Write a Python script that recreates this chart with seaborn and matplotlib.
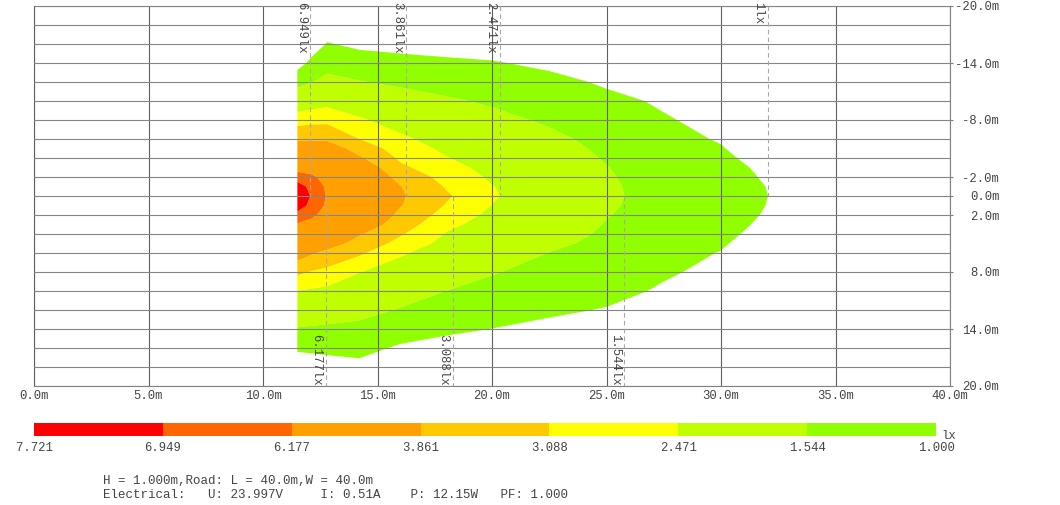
import numpy as np
import matplotlib
matplotlib.use("Agg")
import matplotlib.pyplot as plt
from matplotlib.colors import ListedColormap
import seaborn as sns

# ---------------- data ----------------
x_pos = [11.5, 12.1, 12.8, 14.2, 16.0, 18.0, 20.0, 22.5, 25.0, 27.5, 30.0, 32.0, 34.0]
y_pos = [-18, -16, -14, -12, -10, -8, -6, -5, -4, -3, -2, -1, 0,
         1, 2, 3, 4, 5, 6, 8, 10, 12, 14, 16, 18]

# illuminance (lx): one row per y position, one value per x position
lux_m18 = [0.30, 0.42, 0.72, 0.57, 0.56, 0.56, 0.59, 0.58, 0.57, 0.62, 0.58, 0.56, 0.50]
lux_m16 = [0.50, 0.71, 1.03, 0.90, 0.85, 0.82, 0.81, 0.76, 0.70, 0.70, 0.65, 0.60, 0.55]
lux_m14 = [0.79, 1.12, 1.33, 1.23, 1.15, 1.08, 1.03, 0.92, 0.82, 0.80, 0.71, 0.63, 0.60]
lux_m12 = [1.35, 1.52, 1.71, 1.57, 1.44, 1.34, 1.25, 1.11, 0.95, 0.88, 0.78, 0.66, 0.64]
lux_m10 = [2.01, 2.15, 2.25, 2.06, 1.80, 1.61, 1.47, 1.29, 1.09, 0.955, 0.84, 0.69, 0.68]
lux_m8 = [2.80, 2.87, 2.91, 2.55, 2.19, 1.91, 1.70, 1.46, 1.22, 1.03, 0.90, 0.72, 0.72]
lux_m6 = [3.72, 3.77, 3.73, 3.09, 2.59, 2.20, 1.93, 1.68, 1.36, 1.12, 0.97, 0.75, 0.76]
lux_m5 = [4.38, 4.38, 4.38, 3.52, 2.78, 2.35, 2.04, 1.79, 1.42, 1.165, 1.025, 0.775, 0.78]
lux_m4 = [5.11, 5.04, 5.00, 3.98, 2.97, 2.50, 2.15, 1.89, 1.49, 1.205, 1.075, 0.86, 0.80]
lux_m3 = [5.85, 5.69, 5.49, 4.51, 3.22, 2.68, 2.27, 1.97, 1.56, 1.245, 1.125, 0.925, 0.815]
lux_m2 = [6.58, 6.38, 5.83, 4.88, 3.57, 2.86, 2.38, 2.04, 1.60, 1.28, 1.16, 0.96, 0.83]
lux_m1 = [7.30, 6.75, 6.04, 5.11, 3.89, 3.03, 2.49, 2.08, 1.63, 1.315, 1.175, 0.995, 0.84]
lux_0 = [7.72, 6.90, 6.11, 5.18, 3.96, 3.18, 2.53, 2.10, 1.64, 1.33, 1.18, 1.004, 0.85]
lux_p1 = [7.35, 6.76, 6.04, 5.10, 3.90, 3.04, 2.46, 2.07, 1.62, 1.315, 1.175, 0.995, 0.84]
lux_p2 = [6.73, 6.38, 5.81, 4.87, 3.67, 2.83, 2.33, 2.01, 1.57, 1.28, 1.16, 0.97, 0.83]
lux_p3 = [6.10, 5.86, 5.44, 4.49, 3.42, 2.62, 2.21, 1.92, 1.51, 1.245, 1.13, 0.93, 0.815]
lux_p4 = [5.49, 5.23, 4.92, 3.95, 3.16, 2.43, 2.08, 1.80, 1.45, 1.21, 1.085, 0.885, 0.80]
lux_p5 = [4.89, 4.59, 4.25, 3.56, 2.87, 2.28, 1.96, 1.67, 1.39, 1.17, 1.04, 0.81, 0.78]
lux_p6 = [4.28, 3.96, 3.66, 3.20, 2.55, 2.13, 1.83, 1.53, 1.33, 1.13, 0.985, 0.78, 0.76]
lux_p8 = [3.23, 3.05, 2.90, 2.49, 2.17, 1.84, 1.58, 1.37, 1.22, 1.04, 0.92, 0.74, 0.72]
lux_p10 = [2.45, 2.39, 2.33, 2.10, 1.83, 1.538, 1.38, 1.22, 1.10, 0.96, 0.86, 0.71, 0.68]
lux_p12 = [1.97, 1.92, 1.86, 1.72, 1.50, 1.31, 1.19, 1.06, 0.98, 0.87, 0.80, 0.68, 0.64]
lux_p14 = [1.50, 1.47, 1.44, 1.40, 1.22, 1.08, 0.995, 0.91, 0.87, 0.78, 0.74, 0.65, 0.60]
lux_p16 = [1.08, 1.10, 1.12, 1.14, 0.94, 0.85, 0.81, 0.76, 0.77, 0.70, 0.67, 0.61, 0.55]
lux_p18 = [0.69, 0.74, 0.80, 0.88, 0.67, 0.62, 0.62, 0.61, 0.66, 0.61, 0.61, 0.56, 0.50]

levels = [1.000, 1.544, 2.471, 3.088, 3.861, 6.177, 6.949, 7.721]
band_colors = ["#90FF00", "#C0FF00", "#FFFF00", "#FFC800", "#FFA000", "#FF6600", "#FF0000"]

marker_levels = [6.949, 6.177, 3.861, 3.088, 2.471, 1.544, 1.0]
marker_labels = ["6.949lx", "6.177lx", "3.861lx", "3.088lx", "2.471lx", "1.544lx", "1lx"]
marker_sides = ["top", "bottom", "top", "bottom", "top", "bottom", "top"]

x_ticks = [0, 5, 10, 15, 20, 25, 30, 35, 40]
x_tick_labels = ["0.0m", "5.0m", "10.0m", "15.0m", "20.0m", "25.0m", "30.0m", "35.0m", "40.0m"]
y_ticks = [-20, -14, -8, -2, 0, 2, 8, 14, 20]
y_tick_labels = ["-20.0m", "-14.0m", "-8.0m", "-2.0m", "0.0m", "2.0m", "8.0m", "14.0m", "20.0m"]

cbar_labels = ["7.721", "6.949", "6.177", "3.861", "3.088", "2.471", "1.544", "1.000"]
cbar_unit = "lx"

footer_line1 = "H = 1.000m,Road: L = 40.0m,W = 40.0m"
footer_line2 = "Electrical:   U: 23.997V     I: 0.51A    P: 12.15W   PF: 1.000"

# ---------------- style ----------------
sns.set_style("white")
plt.rcParams["font.family"] = ["Liberation Mono", "DejaVu Sans Mono"]
TXT = "#444444"
FS = 8.8

W, H = 1060, 505
fig = plt.figure(figsize=(W / 100, H / 100), dpi=100)
fig.patch.set_facecolor("white")

# main isolux axes
ax = fig.add_axes([34 / W, 1 - 386 / H, 916 / W, 380 / H])
Z = np.array([lux_m18, lux_m16, lux_m14, lux_m12, lux_m10, lux_m8, lux_m6, lux_m5, lux_m4,
              lux_m3, lux_m2, lux_m1, lux_0, lux_p1, lux_p2, lux_p3, lux_p4, lux_p5, lux_p6,
              lux_p8, lux_p10, lux_p12, lux_p14, lux_p16, lux_p18])
X, Y = np.meshgrid(x_pos, y_pos)
ax.contourf(X, Y, Z, levels=levels, colors=band_colors, antialiased=True, zorder=1)

ax.set_xlim(0, 40)
ax.set_ylim(20, -20)
ax.set_xticks(x_ticks)
ax.set_xticklabels(x_tick_labels)
ax.set_yticks(y_ticks)
ax.set_yticklabels(y_tick_labels)
ax.set_yticks(np.arange(-20, 21, 2), minor=True)
ax.yaxis.tick_right()
ax.tick_params(axis="x", length=0, pad=3, labelsize=FS, labelcolor=TXT)
ax.tick_params(axis="y", which="major", length=2.5, width=0.8, color="#808080",
               pad=33, labelsize=FS, labelcolor=TXT)
ax.tick_params(axis="y", which="minor", length=0)
for lab in ax.get_yticklabels():
    lab.set_horizontalalignment("right")

ax.set_axisbelow(False)
ax.grid(axis="x", which="major", color="#5f5f5f", lw=0.8)
ax.grid(axis="y", which="both", color="#858585", lw=0.8)
for sp in ax.spines.values():
    sp.set_color("#808080")
    sp.set_linewidth(0.8)

# dashed markers at the tip of each contour along y = 0
center = np.array(lux_0)
xs = np.array(x_pos)
for lev, lab, side in zip(marker_levels, marker_labels, marker_sides):
    xt = float(np.interp(lev, center[::-1], xs[::-1]))
    if side == "top":
        ax.vlines(xt, -20, 0, colors="#a8a8a8", lw=0.8, linestyles=(0, (4, 3)), zorder=3)
        ax.annotate(lab, xy=(xt, -20), xytext=(-2.5, 3), textcoords="offset points",
                    rotation=270, ha="right", va="top", fontsize=FS, color=TXT,
                    annotation_clip=False)
    else:
        ax.vlines(xt, 0, 20, colors="#a8a8a8", lw=0.8, linestyles=(0, (4, 3)), zorder=3)
        ax.annotate(lab, xy=(xt, 20), xytext=(-2.5, 0), textcoords="offset points",
                    rotation=270, ha="right", va="bottom", fontsize=FS, color=TXT,
                    annotation_clip=False)

# colour legend strip
cax = fig.add_axes([34 / W, 1 - 436 / H, 902 / W, 13 / H])
strip = np.arange(len(band_colors))[None, :]
sns.heatmap(strip, ax=cax, cmap=ListedColormap(band_colors[::-1]), cbar=False,
            vmin=-0.5, vmax=len(band_colors) - 0.5, xticklabels=False, yticklabels=False)
cax.set_xticks(np.arange(len(cbar_labels)))
cax.set_xticklabels(cbar_labels)
cax.set_yticks([])
cax.tick_params(axis="x", length=0, pad=4, labelsize=FS, labelcolor=TXT)
fig.text(941 / W, 1 - 436 / H, cbar_unit, ha="left", va="center", fontsize=FS, color=TXT)

# footer
fig.text(103 / W, 1 - 481 / H, footer_line1, ha="left", va="center", fontsize=9, color=TXT)
fig.text(103 / W, 1 - 495 / H, footer_line2, ha="left", va="center", fontsize=9, color=TXT)

fig.savefig("out.png", dpi=100, facecolor="white")
